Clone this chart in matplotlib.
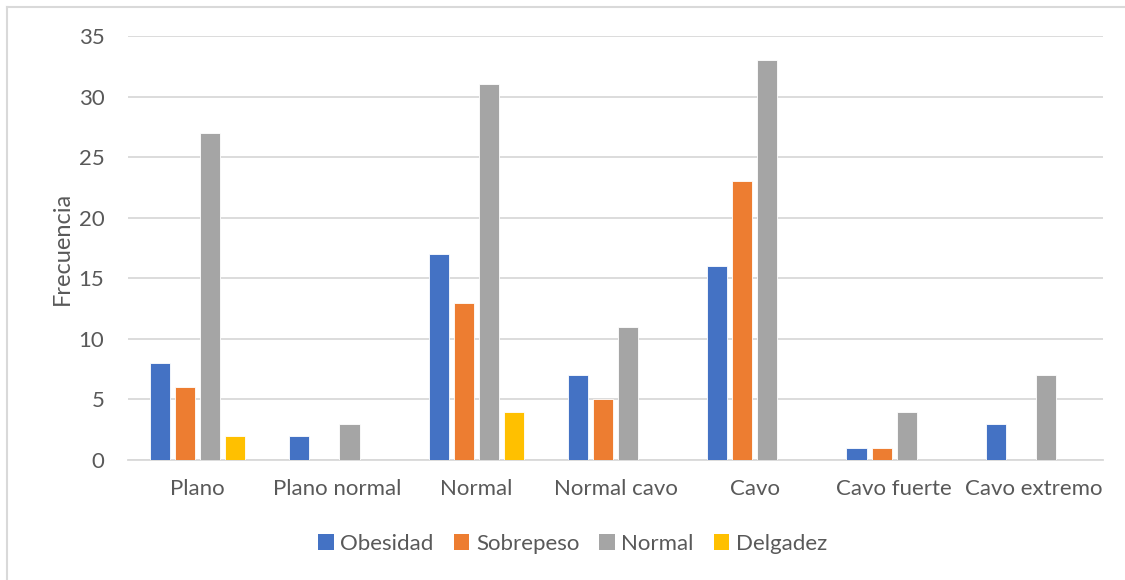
import matplotlib
matplotlib.use("Agg")
import matplotlib.pyplot as plt
from matplotlib.lines import Line2D
from matplotlib.patches import Patch
import numpy as np

categories = ["Plano", "Plano normal", "Normal", "Normal cavo", "Cavo", "Cavo fuerte", "Cavo extremo"]
series_names = ["Obesidad", "Sobrepeso", "Normal", "Delgadez"]
obesidad = [8, 2, 17, 7, 16, 1, 3]
sobrepeso = [6, 0, 13, 5, 23, 1, 0]
normal = [27, 3, 31, 11, 33, 4, 7]
delgadez = [2, 0, 4, 0, 0, 0, 0]
y_ticks = [0, 5, 10, 15, 20, 25, 30, 35]

colors = ["#4472C4", "#ED7D31", "#A5A5A5", "#FFC000"]
text_color = "#595959"
grid_color = "#D9D9D9"

plt.rcParams["font.family"] = ["Lato", "DejaVu Sans"]

fig = plt.figure(figsize=(11.25, 5.8), dpi=100)
ax = fig.add_axes([0.1138, 0.2069, 0.8667, 0.7310])

x = np.arange(len(categories))
bar_w = 0.144
step = 0.18
for i, (vals, col) in enumerate(zip([obesidad, sobrepeso, normal, delgadez], colors)):
    offs = (i - 1.5) * step
    ax.bar(x + offs, vals, width=bar_w, color=col, edgecolor="white",
           linewidth=0.6, zorder=3)

ax.set_xlim(-0.5, len(categories) - 0.5)
ax.set_ylim(0, 35)
ax.set_yticks(y_ticks)
ax.set_xticks(x)
ax.set_xticklabels(categories)
ax.yaxis.grid(True, color=grid_color, linewidth=1.3, zorder=0)
ax.set_axisbelow(True)
for side in ["top", "right", "left"]:
    ax.spines[side].set_visible(False)
ax.spines["bottom"].set_color(grid_color)
ax.spines["bottom"].set_linewidth(1.3)
ax.tick_params(axis="both", length=0, labelsize=16, colors=text_color)
ax.tick_params(axis="x", pad=14)
ax.tick_params(axis="y", pad=17)
ax.set_ylabel("Frecuencia", fontsize=17, color=text_color, labelpad=4)

handles = [Patch(facecolor=c, edgecolor="none") for c in colors]
fig.legend(handles, series_names, loc="center", bbox_to_anchor=(0.509, 0.062),
           ncol=4, frameon=False, fontsize=16, labelcolor=text_color,
           handlelength=0.7, handleheight=0.7, handletextpad=0.3,
           columnspacing=0.9)

# chart frame (top and left edges)
fig.add_artist(Line2D([0.0062, 0.0062], [0.0, 0.9885], color="#D9D9D9",
                      linewidth=1.5, transform=fig.transFigure))
fig.add_artist(Line2D([0.0062, 1.0], [0.9885, 0.9885], color="#D9D9D9",
                      linewidth=1.5, transform=fig.transFigure))

fig.savefig("out.png", dpi=100, facecolor="white")
